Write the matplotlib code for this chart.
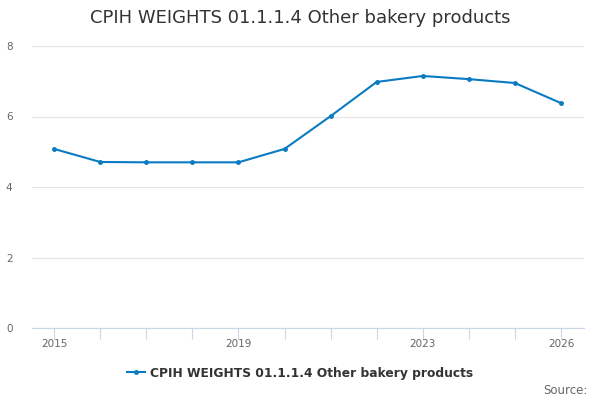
import matplotlib
matplotlib.use("Agg")
import matplotlib.pyplot as plt
from matplotlib.lines import Line2D

years = list(range(2015, 2027))
weights = [5.08, 4.71, 4.7, 4.7, 4.7, 5.08, 6.01, 6.98, 7.15, 7.06, 6.95, 6.38]
labelled_years = [2015, 2019, 2023, 2026]
y_ticks = [0, 2, 4, 6, 8]
series_name = "CPIH WEIGHTS 01.1.1.4 Other bakery products"

line_color = "#0a7bc2"

fig = plt.figure(figsize=(6, 4), dpi=100)
ax = fig.add_axes([32 / 600, 1 - 328 / 400, 552 / 600, 282 / 400])

ax.plot(years, weights, color=line_color, linewidth=1.5, marker="o", markersize=2.5)

ax.set_xlim(2014.52, 2026.5)
ax.set_ylim(0, 8)
ax.set_yticks(y_ticks)
ax.set_yticklabels([str(v) for v in y_ticks])
ax.set_xticks(years)
ax.set_xticklabels([str(y) if y in labelled_years else "" for y in years])

ax.grid(axis="y", color="#e6e6e6", linewidth=0.8)
ax.set_axisbelow(True)
for side in ["top", "right", "left"]:
    ax.spines[side].set_visible(False)
ax.spines["bottom"].set_color("#ccd6eb")
ax.spines["bottom"].set_linewidth(0.8)

ax.tick_params(axis="y", length=0, labelsize=7.5, labelcolor="#666666", pad=14)
ax.tick_params(axis="x", length=8, width=0.8, color="#ccd6eb", labelsize=7.5,
               labelcolor="#666666", pad=0)

fig.text(0.5, 1 - 18 / 400, "CPIH WEIGHTS 01.1.1.4 Other bakery products",
         ha="center", va="center", fontsize=13, color="#333333")

handle = Line2D([], [], color=line_color, linewidth=1.5, marker="o", markersize=2.5)
fig.legend([handle], [series_name], loc="center", bbox_to_anchor=(0.5, 1 - 373 / 400),
           frameon=False, prop={"size": 8.8, "weight": "bold"}, labelcolor="#333333",
           handlelength=1.5, handletextpad=0.4)

fig.text(588 / 600, 1 - 390 / 400, "Source:", ha="right", va="center",
         fontsize=8.5, color="#666666")

fig.savefig("out.png", dpi=100)
